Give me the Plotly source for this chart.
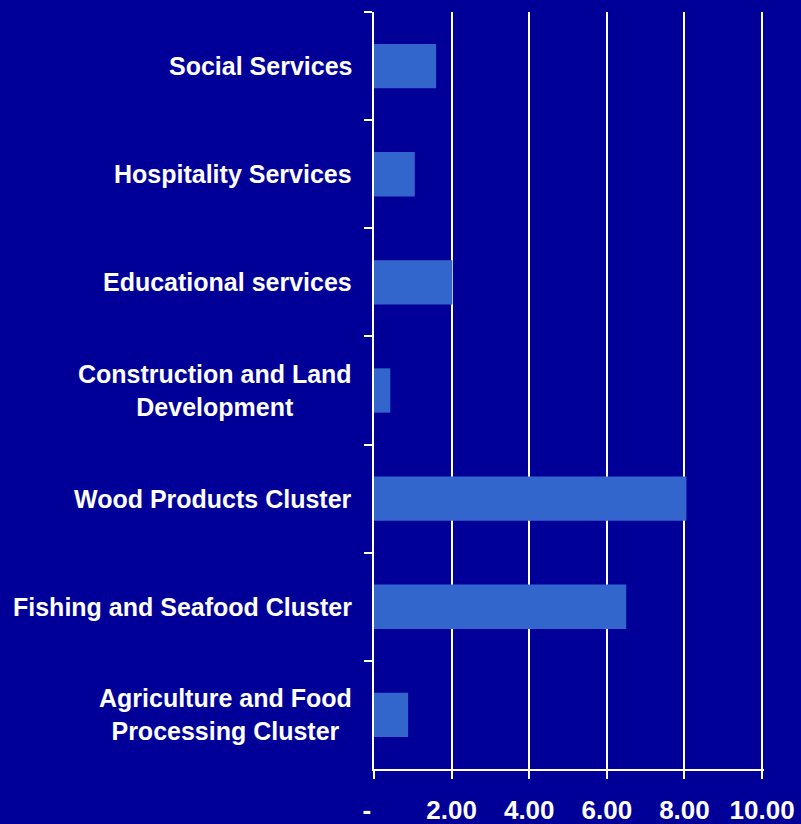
import plotly.graph_objects as go

categories = [
    "Social Services",
    "Hospitality Services",
    "Educational services",
    "Construction and Land<br>Development",
    "Wood Products Cluster",
    "Fishing and Seafood Cluster",
    "Agriculture and Food<br>Processing Cluster",
]
values = [1.60, 1.05, 2.02, 0.42, 8.05, 6.50, 0.88]
x_tickvals = [0, 2, 4, 6, 8, 10]
x_ticktext = ["-\u00a0\u00a0", "2.00", "4.00", "6.00", "8.00", "10.00"]

BG = "#000099"
BAR = "#3366CC"
FONT = "Liberation Sans, Arial, sans-serif"

fig = go.Figure(
    go.Bar(
        x=values,
        y=categories,
        orientation="h",
        marker=dict(color=BAR, line=dict(width=0)),
        hoverinfo="x+y",
    )
)

for cat in categories:
    fig.add_annotation(
        x=0, y=cat, xref="x", yref="y",
        text="<b>" + cat + "</b>",
        showarrow=False, xanchor="right", yanchor="middle",
        align="center", xshift=-20,
        font=dict(family=FONT, size=25, color="white"),
    )

fig.update_layout(
    width=801, height=824,
    paper_bgcolor=BG, plot_bgcolor=BG,
    margin=dict(l=374, r=37, t=12, b=55, autoexpand=False),
    bargap=0.59,
    showlegend=False,
    font=dict(family=FONT, color="white"),
)
fig.update_xaxes(
    range=[0, 10.05],
    tickvals=x_tickvals, ticktext=["<b>" + t + "</b>" for t in x_ticktext],
    showgrid=True, gridcolor="white", gridwidth=2,
    showline=True, linecolor="white", linewidth=2,
    ticks="outside", ticklen=8, tickwidth=2, tickcolor="white",
    tickfont=dict(family=FONT, size=26, color="white"),
    ticklabelstandoff=9,
    automargin=False,
    zeroline=False, fixedrange=True,
)
fig.update_yaxes(
    categoryorder="array", categoryarray=categories,
    autorange="reversed",
    showticklabels=False,
    showgrid=False,
    showline=True, linecolor="white", linewidth=2,
    ticks="outside", ticklen=8, tickwidth=2, tickcolor="white",
    tickson="boundaries",
    automargin=False,
    zeroline=False, fixedrange=True,
)

fig.write_html(
    "out.html",
    config={"displayModeBar": False},
    post_script="document.body.style.margin='0';document.body.style.overflow='hidden';document.body.style.background='" + BG + "';",
)
